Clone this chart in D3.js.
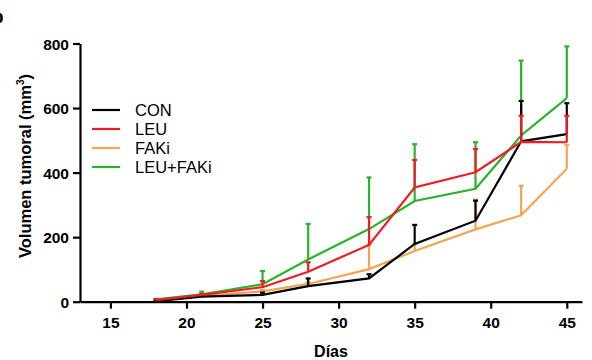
<!DOCTYPE html>
<html>
<head>
<meta charset="utf-8">
<script src="https://cdn.jsdelivr.net/npm/d3@7"></script>
<style>
  html, body { margin: 0; padding: 0; background: #fff; }
  svg { display: block; }
</style>
</head>
<body>
<svg id="chart" width="592" height="360"></svg>
<script>
// ── Data ─────────────────────────────────────────────
const days = [18, 21, 25, 28, 32, 35, 39, 42, 45];
const seriesNames = ['CON', 'LEU', 'FAKi', 'LEU+FAKi'];
const conMean  = [2, 16, 21, 48, 72, 179, 251, 497, 519];
const conTop   = [4, 20, 28, 72, 85, 238, 313, 622, 615];
const leuMean  = [5, 21, 45, 93, 176, 354, 401, 495, 494];
const leuTop   = [7, 24, 64, 122, 262, 439, 473, 576, 576];
const fakMean  = [3, 17, 32, 55, 101, 157, 224, 268, 412];
const fakTop   = [5, 19, 36, 60, 176, 178, 316, 359, 486];
const comboMean = [7, 23, 54, 131, 225, 312, 350, 515, 631];
const comboTop  = [9, 31, 95, 241, 385, 488, 494, 747, 791];
const xTicks = [15, 20, 25, 30, 35, 40, 45];
const yTicks = [0, 200, 400, 600, 800];

const colors = { 'CON': '#000000', 'LEU': '#ee1c24', 'FAKi': '#f7a452', 'LEU+FAKi': '#27b42a' };
const series = [
  { name: 'CON', mean: conMean, top: conTop },
  { name: 'LEU', mean: leuMean, top: leuTop },
  { name: 'FAKi', mean: fakMean, top: fakTop },
  { name: 'LEU+FAKi', mean: comboMean, top: comboTop },
];
// drawing order, bottom to top
const drawOrder = ['LEU+FAKi', 'FAKi', 'CON', 'LEU'];

// ── Layout ───────────────────────────────────────────
const svg = d3.select('#chart');
const L = 80, R = 582, T = 43.5, B = 301.7;
const x = d3.scaleLinear().domain([13, 46]).range([L, R]);
const y = d3.scaleLinear().domain([0, 800]).range([B, T]);
const FONT = "'Liberation Sans', Arial, sans-serif";

// cropped panel letter at the left edge (only its right side shows in the original)
svg.append('text').attr('x', -8).attr('y', 23)
  .attr('font-family', FONT).attr('font-weight', 700).attr('font-size', '19px')
  .text('b');

// ── Series ───────────────────────────────────────────
const gData = svg.append('g');
const line = d3.line().x(d => x(d.day)).y(d => y(d.v));

drawOrder.forEach(name => {
  const s = series.find(d => d.name === name);
  const pts = days.map((day, i) => ({ day, v: s.mean[i], top: s.top[i] }));
  const g = gData.append('g').attr('stroke', colors[name]).attr('stroke-width', 2.2).attr('fill', 'none');
  g.selectAll('line.err').data(pts).join('line').attr('class', 'err')
    .attr('x1', d => x(d.day)).attr('x2', d => x(d.day))
    .attr('y1', d => y(d.v)).attr('y2', d => y(d.top));
  g.selectAll('line.cap').data(pts).join('line').attr('class', 'cap')
    .attr('x1', d => x(d.day) - 2.5).attr('x2', d => x(d.day) + 2.5)
    .attr('y1', d => y(d.top)).attr('y2', d => y(d.top));
  g.append('path').datum(pts).attr('d', line).attr('stroke-linejoin', 'miter');
});

// ── Axes ─────────────────────────────────────────────
const xAxis = svg.append('g').attr('transform', `translate(0,${B})`)
  .call(d3.axisBottom(x).tickValues(xTicks).tickSize(7).tickPadding(8).tickSizeOuter(0));
const yAxis = svg.append('g').attr('transform', `translate(${L},0)`)
  .call(d3.axisLeft(y).tickValues(yTicks).tickSize(7).tickPadding(4).tickSizeOuter(0));

[xAxis, yAxis].forEach(a => {
  a.select('.domain').attr('stroke', '#000').attr('stroke-width', 2.2);
  a.selectAll('.tick line').attr('stroke', '#000').attr('stroke-width', 2.2);
  a.selectAll('.tick text').attr('fill', '#000')
    .attr('font-family', FONT).attr('font-weight', 700).attr('font-size', '15.5px');
});
yAxis.selectAll('.tick text').attr('dy', '0.36em');

// axis titles
svg.append('text').attr('x', (L + R) / 2).attr('y', 357)
  .attr('text-anchor', 'middle').attr('font-family', FONT)
  .attr('font-weight', 700).attr('font-size', '16px').text('Días');

const yTitle = svg.append('text')
  .attr('transform', 'translate(31,166) rotate(-90)')
  .attr('text-anchor', 'middle').attr('font-family', FONT)
  .attr('font-weight', 700).attr('font-size', '16.5px');
yTitle.append('tspan').text('Volumen tumoral (mm');
yTitle.append('tspan').attr('font-size', '10px').attr('dy', '-7').text('3');
yTitle.append('tspan').attr('dy', '7').text(')');

// ── Legend ───────────────────────────────────────────
const legend = svg.append('g').attr('transform', 'translate(92,110)');
const rows = legend.selectAll('g').data(seriesNames).join('g')
  .attr('transform', (d, i) => `translate(0,${i * 19})`);
rows.append('line').attr('x1', 0).attr('x2', 28).attr('y1', 0).attr('y2', 0)
  .attr('stroke', d => colors[d]).attr('stroke-width', 2.2);
rows.append('text').attr('x', 43).attr('y', 0).attr('dy', '0.36em')
  .attr('font-family', FONT).attr('font-size', '16.5px').attr('fill', '#000')
  .text(d => d);
</script>
</body>
</html>
